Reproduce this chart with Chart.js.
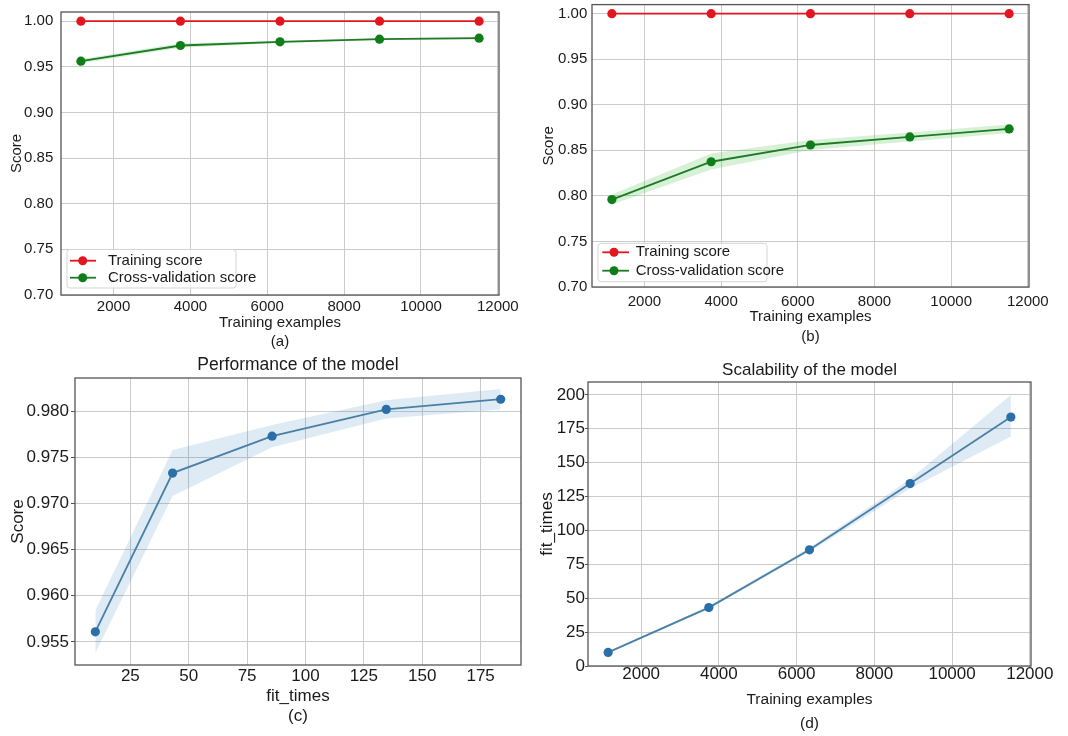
<!DOCTYPE html>
<html><head><meta charset="utf-8">
<script src="https://cdn.jsdelivr.net/npm/chart.js@4.4.1/dist/chart.umd.min.js"></script>
<style>
html,body{margin:0;padding:0;background:#fff;width:1068px;height:736px;overflow:hidden}
.p{position:absolute}
canvas{display:block}
</style></head><body>
<div class="p" style="left:0;top:0;width:534px;height:352px"><canvas id="ca" width="534" height="352"></canvas></div>
<div class="p" style="left:534px;top:0;width:534px;height:352px"><canvas id="cb" width="534" height="352"></canvas></div>
<div class="p" style="left:0;top:345px;width:534px;height:391px"><canvas id="cc" width="534" height="391"></canvas></div>
<div class="p" style="left:534px;top:345px;width:534px;height:391px"><canvas id="cd" width="534" height="391"></canvas></div>
<script>
// ---------- data ----------
const trainSizes = [1151, 3741, 6331, 8921, 11512];
const fitTimes = [10.0, 43.1, 85.7, 134.6, 183.6];
const fitTimesLow = [9.5, 42.0, 84.2, 131.0, 169.3];
const fitTimesHigh = [10.5, 44.2, 87.2, 138.0, 200.0];

const trainScoreA = [1.0, 1.0, 1.0, 1.0, 1.0];
const cvScoreA = [0.9561, 0.9733, 0.9773, 0.9802, 0.9813];
const cvLowA = [0.9538, 0.9708, 0.9761, 0.9792, 0.9802];
const cvHighA = [0.9584, 0.9758, 0.9785, 0.9812, 0.9824];

const trainScoreB = [1.0, 1.0, 1.0, 1.0, 1.0];
const cvScoreB = [0.796, 0.8375, 0.8559, 0.8647, 0.8735];
const cvLowB = [0.7905, 0.8290, 0.8505, 0.8597, 0.8690];
const cvHighB = [0.8015, 0.8465, 0.8613, 0.8697, 0.8785];

const xTicksTrain = [2000, 4000, 6000, 8000, 10000, 12000];
const yTicksScore = [0.70, 0.75, 0.80, 0.85, 0.90, 0.95, 1.00];
const xTicksFit = [25, 50, 75, 100, 125, 150, 175];
const yTicksPerf = [0.955, 0.960, 0.965, 0.970, 0.975, 0.980];
const yTicksFit = [0, 25, 50, 75, 100, 125, 150, 175, 200];

const seriesNames = ['Training score', 'Cross-validation score'];
const axisLabels = {train: 'Training examples', score: 'Score', fit: 'fit_times'};
const panelTitles = ['Performance of the model', 'Scalability of the model'];
const panelTags = ['(a)', '(b)', '(c)', '(d)'];

// ---------- styles ----------
const FONT = "'Liberation Sans', Arial, Helvetica, sans-serif";
Chart.defaults.font.family = FONT;
Chart.defaults.color = '#1a1a1a';
const GRID = '#cbcbcb';
const RED = '#e3161f', GREEN = '#0f7d18', GREEN_LINE = '#1f7a26', BLUE = '#2a6fa8', BLUE_LINE = '#4a7fa6';

const pts = (xs, ys) => xs.map((x, i) => ({x: x, y: ys[i]}));
const setTicks = arr => (s => { s.ticks = arr.map(v => ({value: v})); });
const fixW = w => (s => { s.width = w; s.paddingTop = 0; s.paddingBottom = 0; s.paddingLeft = 0; s.paddingRight = 0; });
const fixH = h => (s => { s.height = h; s.paddingTop = 0; s.paddingBottom = 0; s.paddingLeft = 0; s.paddingRight = 0; });

const framePlugin = {
  id: 'frame',
  afterDatasetsDraw(chart) {
    const a = chart.chartArea, c = chart.ctx;
    c.save(); c.strokeStyle = '#555'; c.lineWidth = 1.3;
    c.strokeRect(a.left, a.top, a.right - a.left, a.bottom - a.top);
    c.restore();
  }
};

const innerLegendPlugin = {
  id: 'innerLegend',
  afterDraw(chart, args, o) {
    if (!o || !o.display) return;
    const c = chart.ctx;
    c.save();
    const r = 3, L = o.left, T = o.top, W = o.width, H = o.height;
    c.beginPath();
    c.moveTo(L + r, T); c.lineTo(L + W - r, T); c.quadraticCurveTo(L + W, T, L + W, T + r);
    c.lineTo(L + W, T + H - r); c.quadraticCurveTo(L + W, T + H, L + W - r, T + H);
    c.lineTo(L + r, T + H); c.quadraticCurveTo(L, T + H, L, T + H - r);
    c.lineTo(L, T + r); c.quadraticCurveTo(L, T, L + r, T); c.closePath();
    c.fillStyle = 'rgba(255,255,255,0.8)'; c.fill();
    c.strokeStyle = '#d4d4d4'; c.lineWidth = 1; c.stroke();
    const items = chart.data.datasets.filter(d => d.inLegend);
    items.forEach((d, i) => {
      const y = T + o.row1 + i * o.rowH;
      c.strokeStyle = d.borderColor; c.lineWidth = 1.8;
      c.beginPath(); c.moveTo(L + o.x0, y); c.lineTo(L + o.x1, y); c.stroke();
      c.fillStyle = d.pointBackgroundColor;
      c.beginPath(); c.arc(L + o.dot, y, 4.5, 0, Math.PI * 2); c.fill();
      c.fillStyle = '#1a1a1a'; c.font = o.font + 'px ' + FONT;
      c.textAlign = 'left'; c.textBaseline = 'middle';
      c.fillText(d.label, L + o.text, y);
    });
    c.restore();
  }
};

function lineDs(label, data, color, lineColor, legend) {
  return {label: label, data: data, borderColor: lineColor, pointBackgroundColor: color,
    backgroundColor: color, pointRadius: 4.6, pointBorderWidth: 0, borderWidth: 1.8,
    tension: 0, fill: false, inLegend: legend};
}
function bandDs(data) {
  return {data: data, borderWidth: 0, pointRadius: 0, fill: false, borderColor: 'rgba(0,0,0,0)'};
}
function bandHigh(data, target, color) {
  return {data: data, borderWidth: 0, pointRadius: 0, fill: target, backgroundColor: color, borderColor: 'rgba(0,0,0,0)'};
}

function baseOptions(pad) {
  return {responsive: false, animation: false, devicePixelRatio: 1,
    layout: {padding: pad},
    plugins: {legend: {display: false}, tooltip: {enabled: false}}};
}

function learningChart(id, tScore, cScore, cLow, cHigh, tag, geo) {
  const opts = baseOptions(geo.pad);
  opts.plugins.innerLegend = Object.assign({display: true, font: 15}, geo.legend);
  opts.scales = {
    x: {type: 'linear', min: 633, max: 12030,
      afterFit: fixH(geo.xh), afterBuildTicks: setTicks(xTicksTrain),
      grid: {color: GRID, drawTicks: false}, border: {display: false},
      ticks: {padding: geo.xtp, font: {size: 15}, color: '#1a1a1a', callback: v => String(v)},
      title: {display: true, text: [axisLabels.train, tag], color: '#1a1a1a',
        font: {size: 15, lineHeight: geo.tlh}, padding: {top: 0, bottom: geo.tpb}}},
    y: {min: 0.70, max: 1.01,
      afterFit: fixW(geo.yw), afterBuildTicks: setTicks(yTicksScore),
      grid: {color: GRID, drawTicks: false}, border: {display: false},
      ticks: {padding: geo.ytp, font: {size: 15}, color: '#1a1a1a', callback: v => v.toFixed(2)},
      title: {display: true, text: axisLabels.score, color: '#1a1a1a',
        font: {size: 15, lineHeight: 1.2}, padding: {top: geo.ytt, bottom: 0}}}
  };
  return new Chart(document.getElementById(id), {
    type: 'line',
    data: {datasets: [
      lineDs(seriesNames[0], pts(trainSizes, tScore), RED, RED, true),
      lineDs(seriesNames[1], pts(trainSizes, cScore), GREEN, GREEN_LINE, true),
      bandDs(pts(trainSizes, cLow)),
      bandHigh(pts(trainSizes, cHigh), 2, 'rgba(70,190,70,0.22)')
    ]},
    options: opts,
    plugins: [framePlugin, innerLegendPlugin]
  });
}

learningChart('ca', trainScoreA, cvScoreA, cvLowA, cvHighA, panelTags[0], {
  pad: {left: 0, top: 12, right: 35, bottom: 0}, xh: 57, yw: 61, xtp: 3, ytp: 7.7, ytt: 7.7, tlh: 1.3, tpb: 0,
  legend: {left: 67, top: 249.5, width: 169, height: 38.5, row1: 11.2, rowH: 17, x0: 3, x1: 29, dot: 15.7, text: 41}
});
learningChart('cb', trainScoreB, cvScoreB, cvLowB, cvHighB, panelTags[1], {
  pad: {left: 0, top: 4, right: 39, bottom: 0}, xh: 65, yw: 58, xtp: 5.7, ytp: 4.7, ytt: 6, tlh: 1.37, tpb: 4.4,
  legend: {left: 64, top: 243.3, width: 169, height: 38.4, row1: 9, rowH: 18.4, x0: 4.3, x1: 31, dot: 16, text: 37.7}
});

// (c) performance
(function () {
  const opts = baseOptions({left: 0, top: 0, right: 13, bottom: 0});
  opts.plugins.title = {display: true, text: panelTitles[0], fullSize: false, color: '#1a1a1a',
    font: {size: 17.5, weight: 'normal', lineHeight: 1.2}, padding: {top: 9.5, bottom: 2.5}};
  opts.scales = {
    x: {type: 'linear', min: 1.3, max: 192.3,
      afterFit: fixH(71), afterBuildTicks: setTicks(xTicksFit),
      grid: {color: GRID, drawTicks: false}, border: {display: false},
      ticks: {padding: 3, font: {size: 17, lineHeight: 1}, color: '#1a1a1a', callback: v => String(v)},
      title: {display: true, text: [axisLabels.fit, panelTags[2]], color: '#1a1a1a',
        font: {size: 17, lineHeight: 1.18}, padding: {top: 0, bottom: 9.3}}},
    y: {min: 0.9525, max: 0.9836,
      afterFit: fixW(75), afterBuildTicks: setTicks(yTicksPerf),
      grid: {color: GRID, drawTicks: true, tickLength: 4, tickColor: '#555'}, border: {display: false},
      ticks: {padding: 2, font: {size: 17}, color: '#1a1a1a', callback: v => v.toFixed(3)},
      title: {display: true, text: axisLabels.score, color: '#1a1a1a',
        font: {size: 17, lineHeight: 1.2}, padding: {top: 8, bottom: 0}}}
  };
  new Chart(document.getElementById('cc'), {
    type: 'line',
    data: {datasets: [
      lineDs('cv', pts(fitTimes, cvScoreA), BLUE, BLUE_LINE, false),
      bandDs(pts(fitTimes, cvLowA)),
      bandHigh(pts(fitTimes, cvHighA), 1, 'rgba(31,119,180,0.15)')
    ]},
    options: opts, plugins: [framePlugin]
  });
})();

// (d) scalability
(function () {
  const opts = baseOptions({left: 0, top: 0, right: 37, bottom: 0});
  opts.plugins.title = {display: true, text: panelTitles[1], fullSize: false, color: '#1a1a1a',
    font: {size: 17, weight: 'normal', lineHeight: 1.2}, padding: {top: 14.8, bottom: 1.8}};
  opts.scales = {
    x: {type: 'linear', min: 633, max: 12030,
      afterFit: fixH(70), afterBuildTicks: setTicks(xTicksTrain),
      grid: {color: GRID, drawTicks: false}, border: {display: false},
      ticks: {padding: 0, font: {size: 17, lineHeight: 1}, color: '#1a1a1a', callback: v => String(v)},
      title: {display: true, text: [axisLabels.train, panelTags[3]], color: '#1a1a1a',
        font: {size: 15.5, lineHeight: 1.5}, padding: {top: 0, bottom: 1.1}}},
    y: {min: 0, max: 209.5,
      afterFit: fixW(54), afterBuildTicks: setTicks(yTicksFit),
      grid: {color: GRID, drawTicks: true, tickLength: 3, tickColor: '#555'}, border: {display: false},
      ticks: {padding: 0, font: {size: 17}, color: '#1a1a1a', callback: v => String(v)},
      title: {display: true, text: axisLabels.fit, color: '#1a1a1a',
        font: {size: 17, lineHeight: 1.2}, padding: {top: 3, bottom: 0}}}
  };
  new Chart(document.getElementById('cd'), {
    type: 'line',
    data: {datasets: [
      lineDs('fit', pts(trainSizes, fitTimes), BLUE, BLUE_LINE, false),
      bandDs(pts(trainSizes, fitTimesLow)),
      bandHigh(pts(trainSizes, fitTimesHigh), 1, 'rgba(31,119,180,0.15)')
    ]},
    options: opts, plugins: [framePlugin]
  });
})();
</script>
</body></html>
